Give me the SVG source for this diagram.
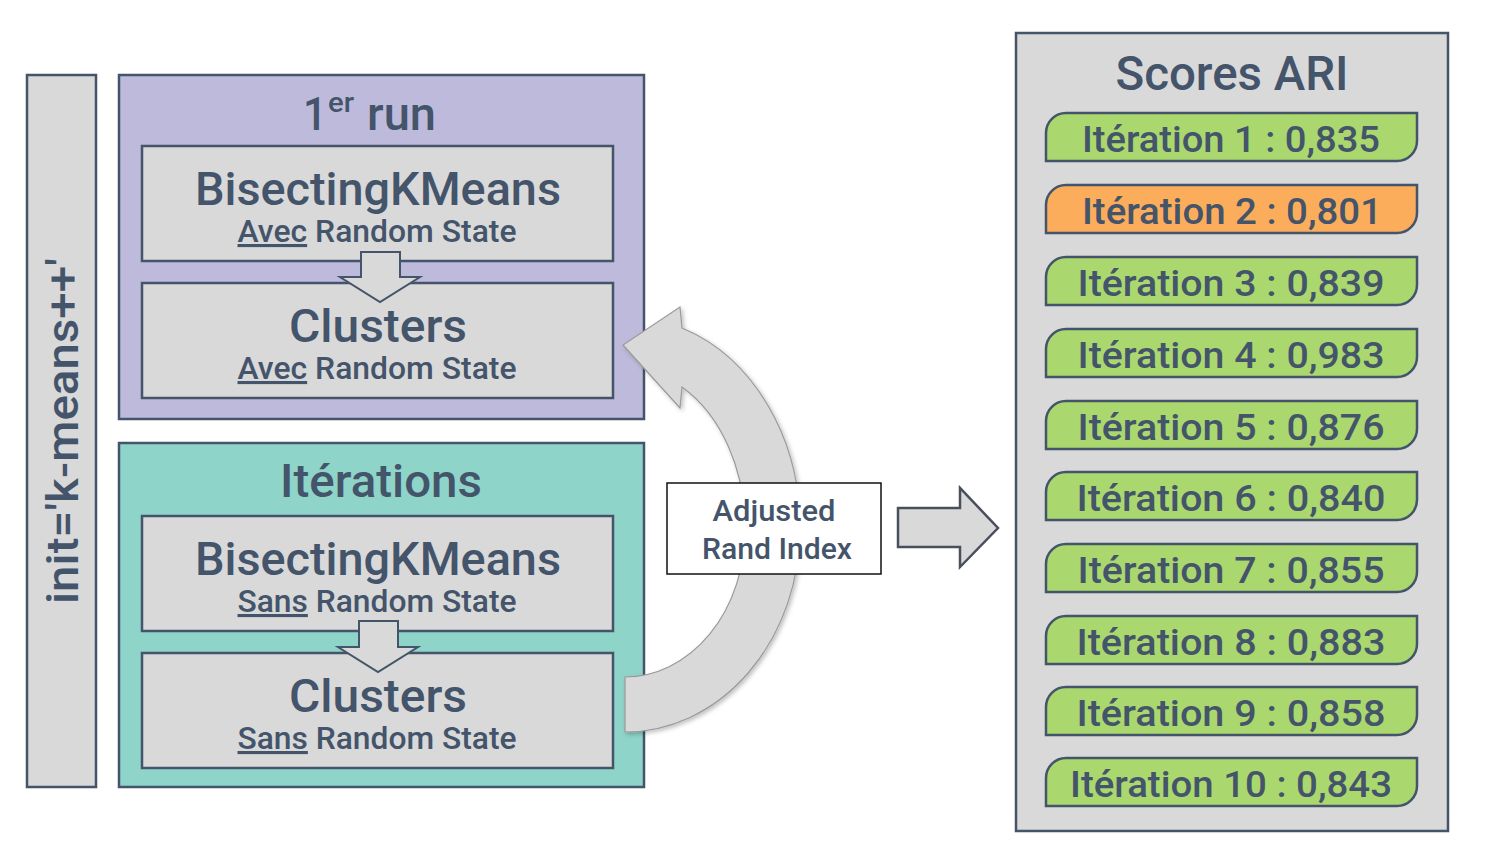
<svg xmlns="http://www.w3.org/2000/svg" width="1486" height="856" viewBox="0 0 1486 856">
<style>
  .t{font-family:Roboto,"Liberation Sans",sans-serif;font-weight:500;fill:#44546a}
  .box{stroke:#44546a;stroke-width:2.5}
  .gray{fill:#d9d9d9}
  .pill{stroke:#44546a;stroke-width:2.5}
  .green{fill:#aad86e}
  .orange{fill:#fbad5c}
  .blk{fill:#d9d9d9;stroke:#44546a;stroke-width:2}
  .u{text-decoration:underline}
</style>
<defs>
  <filter id="sh" x="-20%" y="-20%" width="140%" height="140%">
    <feDropShadow dx="2" dy="2" stdDeviation="2" flood-color="#000" flood-opacity="0.25"/>
  </filter>
</defs>
<rect width="1486" height="856" fill="#ffffff"/>

<g id="init-bar">
  <rect class="box gray" x="27" y="75" width="69" height="712"/>
  <text class="t" font-size="44" text-anchor="middle" textLength="346" lengthAdjust="spacingAndGlyphs" transform="translate(78,431) rotate(-90)">init='k-means++'</text>
</g>

<g id="first-run">
  <rect class="box" fill="#bebadb" x="119" y="75" width="525" height="344"/>
  <text class="t" font-size="46" x="303" y="130" textLength="24" lengthAdjust="spacingAndGlyphs">1</text>
  <text class="t" font-size="27" x="328" y="112" textLength="26" lengthAdjust="spacingAndGlyphs">er</text>
  <text class="t" font-size="46" x="367" y="130" textLength="69" lengthAdjust="spacingAndGlyphs">run</text>
</g>
<g id="bkm-avec">
  <rect class="box gray" x="142" y="146" width="471" height="115"/>
  <text class="t" font-size="46" x="378" y="205" text-anchor="middle" textLength="366" lengthAdjust="spacingAndGlyphs">BisectingKMeans</text>
  <text class="t" font-size="31" x="377" y="242" text-anchor="middle" textLength="279" lengthAdjust="spacingAndGlyphs"><tspan class="u">Avec</tspan> Random State</text>
</g>
<g id="clusters-avec">
  <rect class="box gray" x="142" y="283" width="471" height="115"/>
  <text class="t" font-size="46" x="378" y="342" text-anchor="middle" textLength="178" lengthAdjust="spacingAndGlyphs">Clusters</text>
  <text class="t" font-size="31" x="377" y="379" text-anchor="middle" textLength="279" lengthAdjust="spacingAndGlyphs"><tspan class="u">Avec</tspan> Random State</text>
</g>

<g id="iterations">
  <rect class="box" fill="#8ed4c8" x="119" y="443" width="525" height="344"/>
  <text class="t" font-size="46" x="381" y="497" text-anchor="middle" textLength="202" lengthAdjust="spacingAndGlyphs">Itérations</text>
</g>
<g id="bkm-sans">
  <rect class="box gray" x="142" y="516" width="471" height="115"/>
  <text class="t" font-size="46" x="378" y="575" text-anchor="middle" textLength="366" lengthAdjust="spacingAndGlyphs">BisectingKMeans</text>
  <text class="t" font-size="31" x="377" y="612" text-anchor="middle" textLength="279" lengthAdjust="spacingAndGlyphs"><tspan class="u">Sans</tspan> Random State</text>
</g>
<g id="clusters-sans">
  <rect class="box gray" x="142" y="653" width="471" height="115"/>
  <text class="t" font-size="46" x="378" y="712" text-anchor="middle" textLength="178" lengthAdjust="spacingAndGlyphs">Clusters</text>
  <text class="t" font-size="31" x="377" y="749" text-anchor="middle" textLength="279" lengthAdjust="spacingAndGlyphs"><tspan class="u">Sans</tspan> Random State</text>
</g>

<g id="connectors">
  <path class="blk" d="M361,252 H400 V277 H420 L380,302 L340,277 H361 Z"/>
  <path class="blk" d="M359,621 H398 V647 H418 L378,672 L338,647 H359 Z"/>
  <path filter="url(#sh)" fill="#d9d9d9" stroke="#9a9a9a" stroke-width="1.2" d="M625,732 A175 204 0 0 0 800,528 A175 210 0 0 0 682,328 L680,307 L623,345 L680,408 L682,387 A120 160 0 0 1 745,530 A120 147 0 0 1 625,677 Z"/>
  <path fill="#d9d9d9" stroke="#4a4f5c" stroke-width="2.5" d="M898,508 H960 V488 L998,528 L960,567 V547 H898 Z"/>
</g>

<g id="ari-label">
  <rect x="667" y="483" width="214" height="91" fill="#ffffff" stroke="#111111" stroke-width="1.5"/>
  <text class="t" font-size="29" x="774" y="521" text-anchor="middle" textLength="123" lengthAdjust="spacingAndGlyphs">Adjusted</text>
  <text class="t" font-size="29" x="777" y="559" text-anchor="middle" textLength="150" lengthAdjust="spacingAndGlyphs">Rand Index</text>
</g>

<g id="scores">
  <rect class="box gray" x="1016" y="33" width="432" height="798"/>
  <text class="t" font-size="48" x="1232" y="90" text-anchor="middle" textLength="233" lengthAdjust="spacingAndGlyphs">Scores ARI</text>
</g>

<g id="it1"><path class="pill green" d="M1066,113 H1417 V141 A20 20 0 0 1 1397,161 H1046 V133 A20 20 0 0 1 1066,113 Z"/><text class="t" font-size="37" x="1231" y="152" text-anchor="middle" textLength="298" lengthAdjust="spacingAndGlyphs">Itération 1 : 0,835</text></g>
<g id="it2"><path class="pill orange" d="M1066,185 H1417 V213 A20 20 0 0 1 1397,233 H1046 V205 A20 20 0 0 1 1066,185 Z"/><text class="t" font-size="37" x="1232" y="224" text-anchor="middle" textLength="300" lengthAdjust="spacingAndGlyphs">Itération 2 : 0,801</text></g>
<g id="it3"><path class="pill green" d="M1066,257 H1417 V285 A20 20 0 0 1 1397,305 H1046 V277 A20 20 0 0 1 1066,257 Z"/><text class="t" font-size="37" x="1231" y="296" text-anchor="middle" textLength="307" lengthAdjust="spacingAndGlyphs">Itération 3 : 0,839</text></g>
<g id="it4"><path class="pill green" d="M1066,329 H1417 V357 A20 20 0 0 1 1397,377 H1046 V349 A20 20 0 0 1 1066,329 Z"/><text class="t" font-size="37" x="1231" y="368" text-anchor="middle" textLength="307" lengthAdjust="spacingAndGlyphs">Itération 4 : 0,983</text></g>
<g id="it5"><path class="pill green" d="M1066,401 H1417 V429 A20 20 0 0 1 1397,449 H1046 V421 A20 20 0 0 1 1066,401 Z"/><text class="t" font-size="37" x="1231" y="440" text-anchor="middle" textLength="307" lengthAdjust="spacingAndGlyphs">Itération 5 : 0,876</text></g>
<g id="it6"><path class="pill green" d="M1066,472 H1417 V500 A20 20 0 0 1 1397,520 H1046 V492 A20 20 0 0 1 1066,472 Z"/><text class="t" font-size="37" x="1231" y="511" text-anchor="middle" textLength="309" lengthAdjust="spacingAndGlyphs">Itération 6 : 0,840</text></g>
<g id="it7"><path class="pill green" d="M1066,544 H1417 V572 A20 20 0 0 1 1397,592 H1046 V564 A20 20 0 0 1 1066,544 Z"/><text class="t" font-size="37" x="1231" y="583" text-anchor="middle" textLength="307" lengthAdjust="spacingAndGlyphs">Itération 7 : 0,855</text></g>
<g id="it8"><path class="pill green" d="M1066,616 H1417 V644 A20 20 0 0 1 1397,664 H1046 V636 A20 20 0 0 1 1066,616 Z"/><text class="t" font-size="37" x="1231" y="655" text-anchor="middle" textLength="309" lengthAdjust="spacingAndGlyphs">Itération 8 : 0,883</text></g>
<g id="it9"><path class="pill green" d="M1066,687 H1417 V715 A20 20 0 0 1 1397,735 H1046 V707 A20 20 0 0 1 1066,687 Z"/><text class="t" font-size="37" x="1231" y="726" text-anchor="middle" textLength="309" lengthAdjust="spacingAndGlyphs">Itération 9 : 0,858</text></g>
<g id="it10"><path class="pill green" d="M1066,758 H1417 V786 A20 20 0 0 1 1397,806 H1046 V778 A20 20 0 0 1 1066,758 Z"/><text class="t" font-size="37" x="1231" y="797" text-anchor="middle" textLength="322" lengthAdjust="spacingAndGlyphs">Itération 10 : 0,843</text></g>
</svg>
